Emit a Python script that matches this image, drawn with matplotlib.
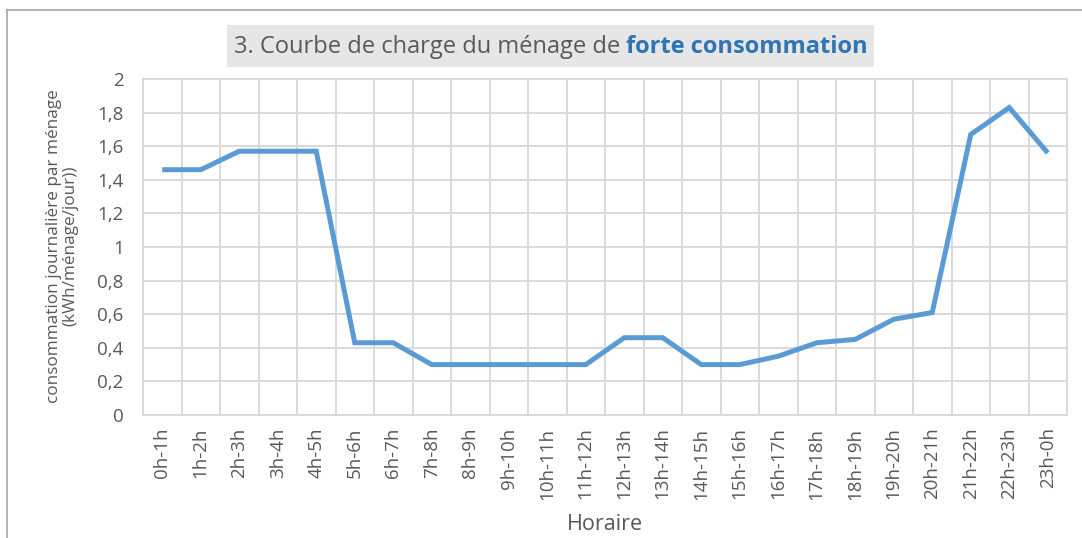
import matplotlib
matplotlib.use("Agg")
import matplotlib.pyplot as plt
from matplotlib.patches import Rectangle
from matplotlib.lines import Line2D
from matplotlib.ticker import FixedLocator, FuncFormatter

# Hourly load curve of a high-consumption household
hours = ["0h-1h", "1h-2h", "2h-3h", "3h-4h", "4h-5h", "5h-6h", "6h-7h", "7h-8h",
         "8h-9h", "9h-10h", "10h-11h", "11h-12h", "12h-13h", "13h-14h", "14h-15h",
         "15h-16h", "16h-17h", "17h-18h", "18h-19h", "19h-20h", "20h-21h",
         "21h-22h", "22h-23h", "23h-0h"]
consumption = [1.46, 1.46, 1.57, 1.57, 1.57, 0.43, 0.43, 0.30, 0.30, 0.30, 0.30,
               0.30, 0.46, 0.46, 0.30, 0.30, 0.35, 0.43, 0.45, 0.57, 0.61, 1.67,
               1.83, 1.56]
y_ticks = [0, 0.2, 0.4, 0.6, 0.8, 1.0, 1.2, 1.4, 1.6, 1.8, 2.0]

title_plain = "3. Courbe de charge du ménage de "
title_bold = "forte consommation"
y_label = "consommation journalière par ménage\n(kWh/ménage/jour))"
x_label = "Horaire"

FONT = ["Open Sans", "DejaVu Sans"]
TEXT = "#595959"
GRID = "#D9D9D9"
LINE = "#5B9BD5"
W, H = 1082, 538

plt.rcParams["font.family"] = FONT
fig = plt.figure(figsize=(W / 100, H / 100), dpi=100)
fig.patch.set_facecolor("white")


def px(x0, y0, x1, y1):
    """Pixel box (top-left origin) -> figure-fraction rect."""
    return [x0 / W, 1 - y1 / H, (x1 - x0) / W, (y1 - y0) / H]


ax = fig.add_axes(px(143, 79, 1067, 415))
xs = list(range(len(hours)))
ax.plot(xs, consumption, color=LINE, lw=3.6, solid_joinstyle="miter",
        solid_capstyle="butt", zorder=3)

ax.set_xlim(-0.5, len(hours) - 0.5)
ax.set_ylim(0, 2)
ax.set_xticks(xs)
ax.set_xticklabels(hours, rotation=90, fontsize=13.5, color=TEXT)
ax.xaxis.set_minor_locator(FixedLocator([i - 0.5 for i in range(len(hours) + 1)]))
ax.set_yticks(y_ticks)
ax.yaxis.set_major_formatter(FuncFormatter(lambda v, p: f"{v:g}".replace(".", ",")))
ax.tick_params(axis="y", labelsize=13.5, colors=TEXT, length=0, pad=14)
ax.tick_params(axis="x", which="both", length=0, pad=9)
ax.grid(axis="y", which="major", color=GRID, lw=1.4)
ax.grid(axis="x", which="minor", color=GRID, lw=1.4)
ax.grid(axis="x", which="major", visible=False)
for s in ax.spines.values():
    s.set_color(GRID)
    s.set_linewidth(1.4)
ax.set_axisbelow(True)

fig.text(62 / W, 1 - 246 / H, y_label, rotation=90, ha="center", va="center",
         fontsize=12.3, color=TEXT, linespacing=1.05)
fig.text(605 / W, 1 - 524 / H, x_label, ha="center", va="center",
         fontsize=15.5, color=TEXT)

# Title: grey banner with a bold blue emphasis
fig.patches.append(Rectangle((227 / W, 1 - 67 / H), (874 - 227) / W, 42 / H,
                             transform=fig.transFigure, facecolor="#E7E6E6",
                             edgecolor="none", zorder=0))
t1 = fig.text(0, 1 - 47 / H, title_plain, ha="left", va="center",
              fontsize=17, color=TEXT)
t2 = fig.text(0, 1 - 47 / H, title_bold, ha="left", va="center",
              fontsize=17, color="#2E75B6", fontweight="bold")
fig.canvas.draw()
r = fig.canvas.get_renderer()
w1 = t1.get_window_extent(r).width
w2 = t2.get_window_extent(r).width
start = 550.5 - (w1 + w2) / 2
t1.set_x(start / W)
t2.set_x((start + w1) / W)

# Outer chart frame (left and top edges)
fig.add_artist(Line2D([7 / W, 7 / W], [0, 1 - 10 / H], transform=fig.transFigure,
                      color="#A6A6A6", lw=1.2))
fig.add_artist(Line2D([7 / W, 1], [1 - 10 / H, 1 - 10 / H], transform=fig.transFigure,
                      color="#A6A6A6", lw=1.2))

fig.savefig("out.png", dpi=100)
